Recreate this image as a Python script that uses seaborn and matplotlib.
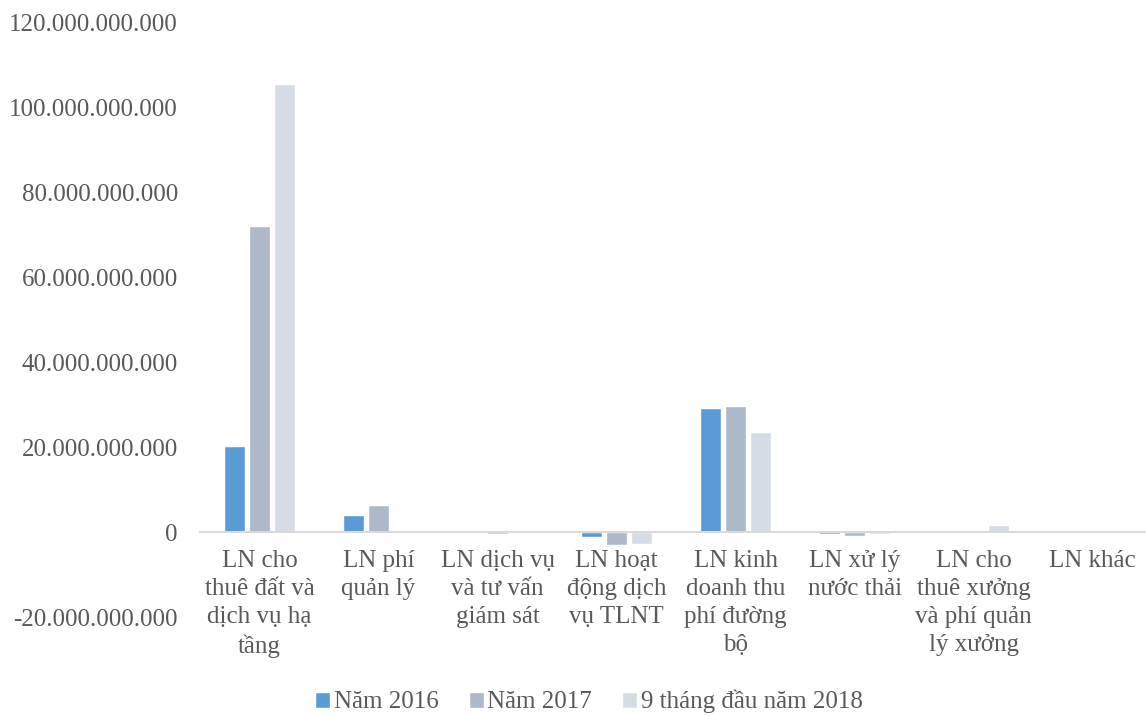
import pandas as pd
import numpy as np
import matplotlib.pyplot as plt
import seaborn as sns

categories = ["LN cho\nthuê đất và\ndịch vụ hạ\ntầng", "LN phí\nquản lý",
              "LN dịch vụ\nvà tư vấn\ngiám sát", "LN hoạt\nđộng dịch\nvụ TLNT",
              "LN kinh\ndoanh thu\nphí đường\nbộ", "LN xử lý\nnước thải",
              "LN cho\nthuê xưởng\nvà phí quản\nlý xưởng", "LN khác"]
series = ["Năm 2016", "Năm 2017", "9 tháng đầu năm 2018"]
v2016 = [20.2e9, 4.0e9, 0, -1.2e9, 29.2e9, -0.5e9, 0, 0]
v2017 = [72.0e9, 6.4e9, -0.5e9, -3.1e9, 29.8e9, -0.9e9, 0.5e9, 0]
v2018 = [105.5e9, 0, 0, -2.7e9, 23.6e9, -0.4e9, 1.8e9, 0]
colors = ["#5B9BD5", "#ADB9CA", "#D6DCE5"]

df = pd.DataFrame({
    "cat": categories * 3,
    "series": [s for s in series for _ in categories],
    "value": v2016 + v2017 + v2018,
})

sns.set_style("white")
plt.rcParams["font.family"] = ["Liberation Serif", "DejaVu Serif"]

fig = plt.figure(figsize=(11.46, 7.16), dpi=100)
ax = fig.add_axes([0.1745, 0.138, 0.831, 0.831])
sns.barplot(data=df, x="cat", y="value", hue="series", palette=colors,
            saturation=1, width=0.63, gap=0.15, ax=ax, errorbar=None)

ax.set_ylim(-20e9, 120e9)
ax.set_yticks(np.arange(-20e9, 121e9, 20e9))
ax.set_yticklabels([f"{int(v):,}".replace(",", ".") for v in np.arange(-20e9, 121e9, 20e9)])
ax.set_xlabel("")
ax.set_ylabel("")
for s in ["top", "right", "left"]:
    ax.spines[s].set_visible(False)
ax.spines["bottom"].set_position(("data", 0))
ax.spines["bottom"].set_color("#d9d9d9")
ax.spines["bottom"].set_linewidth(1.5)
ax.tick_params(axis="both", length=0, labelsize=18, labelcolor="#595959")
ax.tick_params(axis="x", pad=13)
ax.tick_params(axis="y", pad=16)
for t in ax.get_xticklabels():
    t.set_linespacing(1.35)

ax.get_legend().remove()
handles, labels = ax.get_legend_handles_labels()
fig.legend(handles, labels, loc="center", bbox_to_anchor=(589 / 1146, 0.02),
           bbox_transform=fig.transFigure, ncol=3, frameon=False,
           fontsize=18, handlelength=0.6, handleheight=0.6, handletextpad=0.15,
           columnspacing=1.2, labelcolor="#595959")

fig.savefig("out.png", dpi=100)
